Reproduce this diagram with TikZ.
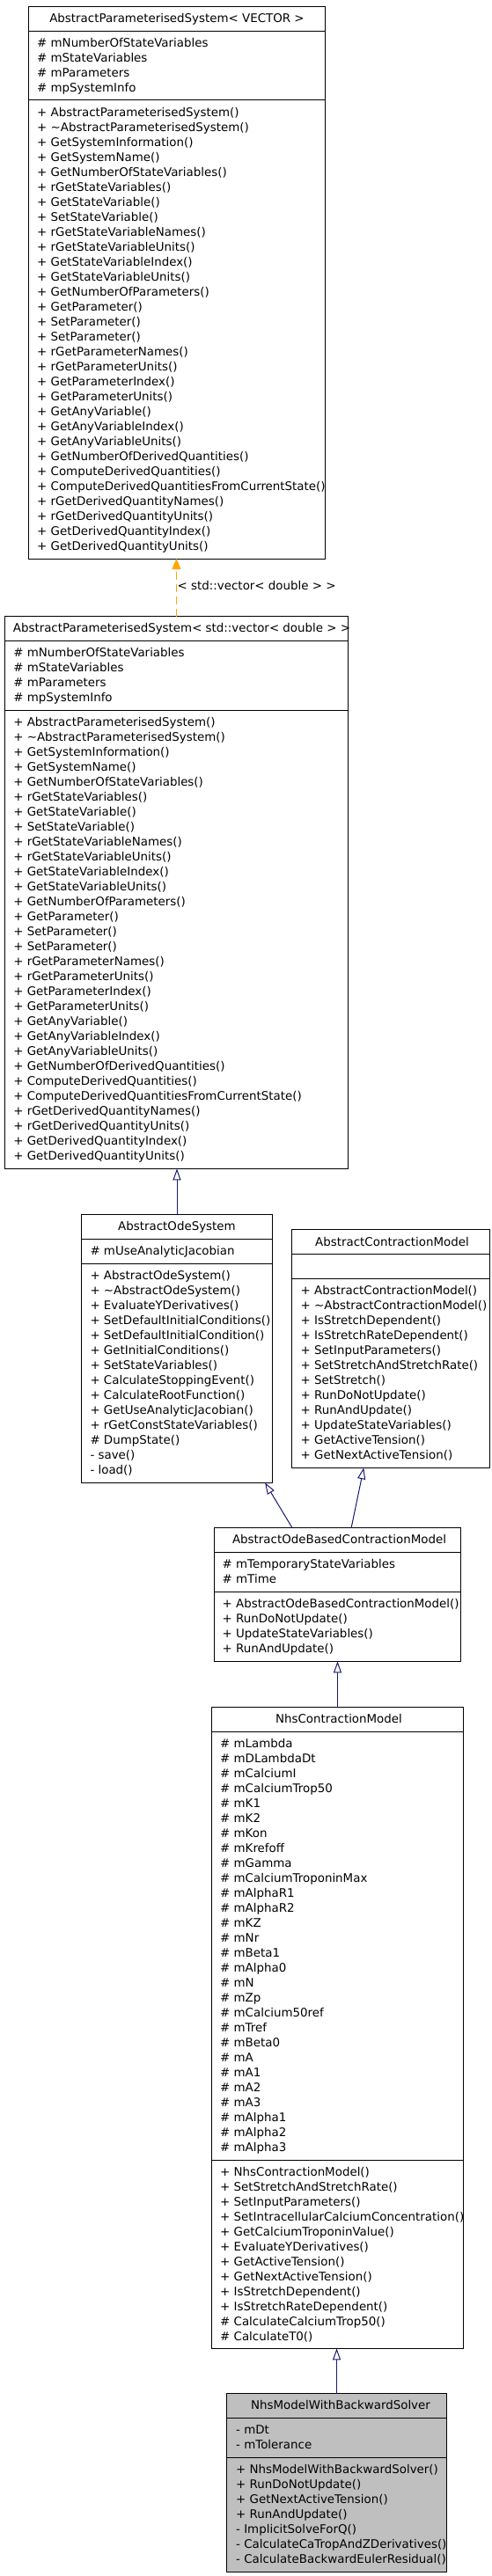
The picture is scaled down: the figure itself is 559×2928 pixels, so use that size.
\documentclass[tikz,border=0pt]{standalone}
\usepackage{fontspec}
\setmainfont{DejaVu Sans}
\usetikzlibrary{arrows.meta}
\definecolor{edgeblue}{RGB}{25,25,112}
\definecolor{deporange}{RGB}{255,165,0}
\definecolor{boxgray}{RGB}{191,191,191}
\newcommand\clsrows[4]{\foreach \lbl [count=\i from 0] in {#4} {\node[rowtxt] (#1\i) at (#2,{#3+17*\i}) {\lbl};}}
\begin{document}
\begin{tikzpicture}[x=1pt,y=-1pt,
  classbox/.style={draw=black, fill=white, line width=1pt, anchor=north west, inner sep=0pt, outer sep=0pt},
  rowtxt/.style={anchor=base west, inner sep=0pt, font=\fontsize{13.4}{17}\selectfont},
  ttl/.style={anchor=base, inner sep=0pt, font=\fontsize{13.4}{17}\selectfont},
  sep/.style={draw=black, line width=1pt},
  inh/.style={draw=edgeblue, line width=1pt, -{Triangle[open, length=13pt, width=9pt, fill=white]}},
  dep/.style={draw=deporange, line width=1pt, dash pattern=on 9pt off 5pt, -{Triangle[length=12pt, width=10pt, fill=deporange]}}]
\useasboundingbox (0,0) rectangle (559,2928);
\fill[white] (0,0) rectangle (559,2928);

% ---------- Box 1 ----------
\node[classbox, minimum width=336.7pt, minimum height=627.7pt] (b1) at (32.6,7.3) {};
\draw[sep] ([yshift=-28pt]b1.north west) -- ([yshift=-28pt]b1.north east);
\draw[sep] ([yshift=-106pt]b1.north west) -- ([yshift=-106pt]b1.north east);
\node[ttl] (b1t) at (201,25.7) {AbstractParameterisedSystem< VECTOR >};
\clsrows{b1a}{42}{53.3}{\# mNumberOfStateVariables,\# mStateVariables,\# mParameters,\# mpSystemInfo}
\clsrows{b1o}{42}{132.3}{+ AbstractParameterisedSystem(),+ \textasciitilde AbstractParameterisedSystem(),+ GetSystemInformation(),+ GetSystemName(),+ GetNumberOfStateVariables(),+ rGetStateVariables(),+ GetStateVariable(),+ SetStateVariable(),+ rGetStateVariableNames(),+ rGetStateVariableUnits(),+ GetStateVariableIndex(),+ GetStateVariableUnits(),+ GetNumberOfParameters(),+ GetParameter(),+ SetParameter(),+ SetParameter(),+ rGetParameterNames(),+ rGetParameterUnits(),+ GetParameterIndex(),+ GetParameterUnits(),+ GetAnyVariable(),+ GetAnyVariableIndex(),+ GetAnyVariableUnits(),+ GetNumberOfDerivedQuantities(),+ ComputeDerivedQuantities(),+ ComputeDerivedQuantitiesFromCurrentState(),+ rGetDerivedQuantityNames(),+ rGetDerivedQuantityUnits(),+ GetDerivedQuantityIndex(),+ GetDerivedQuantityUnits()}

% ---------- Box 2 ----------
\node[classbox, minimum width=390.1pt, minimum height=627.6pt] (b2) at (5.4,700.7) {};
\draw[sep] ([yshift=-28pt]b2.north west) -- ([yshift=-28pt]b2.north east);
\draw[sep] ([yshift=-106.6pt]b2.north west) -- ([yshift=-106.6pt]b2.north east);
\node[ttl] (b2t) at (206.5,718.3) {AbstractParameterisedSystem< std::vector< double > >};
\clsrows{b2a}{15.1}{746.3}{\# mNumberOfStateVariables,\# mStateVariables,\# mParameters,\# mpSystemInfo}
\clsrows{b2o}{15.1}{825.3}{+ AbstractParameterisedSystem(),+ \textasciitilde AbstractParameterisedSystem(),+ GetSystemInformation(),+ GetSystemName(),+ GetNumberOfStateVariables(),+ rGetStateVariables(),+ GetStateVariable(),+ SetStateVariable(),+ rGetStateVariableNames(),+ rGetStateVariableUnits(),+ GetStateVariableIndex(),+ GetStateVariableUnits(),+ GetNumberOfParameters(),+ GetParameter(),+ SetParameter(),+ SetParameter(),+ rGetParameterNames(),+ rGetParameterUnits(),+ GetParameterIndex(),+ GetParameterUnits(),+ GetAnyVariable(),+ GetAnyVariableIndex(),+ GetAnyVariableUnits(),+ GetNumberOfDerivedQuantities(),+ ComputeDerivedQuantities(),+ ComputeDerivedQuantitiesFromCurrentState(),+ rGetDerivedQuantityNames(),+ rGetDerivedQuantityUnits(),+ GetDerivedQuantityIndex(),+ GetDerivedQuantityUnits()}

% ---------- Box 3 ----------
\node[classbox, minimum width=216.2pt, minimum height=304.6pt] (b3) at (92.9,1380.7) {};
\draw[sep] ([yshift=-27.6pt]b3.north west) -- ([yshift=-27.6pt]b3.north east);
\draw[sep] ([yshift=-55.6pt]b3.north west) -- ([yshift=-55.6pt]b3.north east);
\node[ttl] (b3t) at (201,1398.3) {AbstractOdeSystem};
\clsrows{b3a}{102.3}{1426.7}{\# mUseAnalyticJacobian}
\clsrows{b3o}{102.3}{1454.3}{+ AbstractOdeSystem(),+ \textasciitilde AbstractOdeSystem(),+ EvaluateYDerivatives(),+ SetDefaultInitialConditions(),+ SetDefaultInitialCondition(),+ GetInitialConditions(),+ SetStateVariables(),+ CalculateStoppingEvent(),+ CalculateRootFunction(),+ GetUseAnalyticJacobian(),+ rGetConstStateVariables(),\# DumpState(),- save(),- load()}

% ---------- Box 4 ----------
\node[classbox, minimum width=225.2pt, minimum height=270.6pt] (b4) at (331.3,1397.7) {};
\draw[sep] ([yshift=-28pt]b4.north west) -- ([yshift=-28pt]b4.north east);
\draw[sep] ([yshift=-55.6pt]b4.north west) -- ([yshift=-55.6pt]b4.north east);
\node[ttl] (b4t) at (445.5,1416.7) {AbstractContractionModel};
\clsrows{b4o}{341.5}{1471.3}{+ AbstractContractionModel(),+ \textasciitilde AbstractContractionModel(),+ IsStretchDependent(),+ IsStretchRateDependent(),+ SetInputParameters(),+ SetStretchAndStretchRate(),+ SetStretch(),+ RunDoNotUpdate(),+ RunAndUpdate(),+ UpdateStateVariables(),+ GetActiveTension(),+ GetNextActiveTension()}

% ---------- Box 5 ----------
\node[classbox, minimum width=280.4pt, minimum height=151.6pt] (b5) at (243.1,1736.7) {};
\draw[sep] ([yshift=-27.6pt]b5.north west) -- ([yshift=-27.6pt]b5.north east);
\draw[sep] ([yshift=-72.6pt]b5.north west) -- ([yshift=-72.6pt]b5.north east);
\node[ttl] (b5t) at (385.5,1754.3) {AbstractOdeBasedContractionModel};
\clsrows{b5a}{252.5}{1782.3}{\# mTemporaryStateVariables,\# mTime}
\clsrows{b5o}{252.5}{1827.7}{+ AbstractOdeBasedContractionModel(),+ RunDoNotUpdate(),+ UpdateStateVariables(),+ RunAndUpdate()}

% ---------- Box 6 ----------
\node[classbox, minimum width=285.8pt, minimum height=728.6pt] (b6) at (240.6,1940.7) {};
\draw[sep] ([yshift=-28pt]b6.north west) -- ([yshift=-28pt]b6.north east);
\draw[sep] ([yshift=-515pt]b6.north west) -- ([yshift=-515pt]b6.north east);
\node[ttl] (b6t) at (385,1958.3) {NhsContractionModel};
\clsrows{b6a}{250}{1986.3}{\# mLambda,\# mDLambdaDt,\# mCalciumI,\# mCalciumTrop50,\# mK1,\# mK2,\# mKon,\# mKrefoff,\# mGamma,\# mCalciumTroponinMax,\# mAlphaR1,\# mAlphaR2,\# mKZ,\# mNr,\# mBeta1,\# mAlpha0,\# mN,\# mZp,\# mCalcium50ref,\# mTref,\# mBeta0,\# mA,\# mA1,\# mA2,\# mA3,\# mAlpha1,\# mAlpha2,\# mAlpha3}
\clsrows{b6o}{250}{2473.3}{+ NhsContractionModel(),+ SetStretchAndStretchRate(),+ SetInputParameters(),+ SetIntracellularCalciumConcentration(),+ GetCalciumTroponinValue(),+ EvaluateYDerivatives(),+ GetActiveTension(),+ GetNextActiveTension(),+ IsStretchDependent(),+ IsStretchRateDependent(),\# CalculateCalciumTrop50(),\# CalculateT0()}

% ---------- Box 7 ----------
\node[classbox, fill=boxgray, minimum width=249.5pt, minimum height=202.6pt] (b7) at (257.8,2720.7) {};
\draw[sep] ([yshift=-28pt]b7.north west) -- ([yshift=-28pt]b7.north east);
\draw[sep] ([yshift=-72.6pt]b7.north west) -- ([yshift=-72.6pt]b7.north east);
\node[ttl] (b7t) at (387,2738.3) {NhsModelWithBackwardSolver};
\clsrows{b7a}{268}{2766.3}{- mDt,- mTolerance}
\clsrows{b7o}{268}{2811}{+ NhsModelWithBackwardSolver(),+ RunDoNotUpdate(),+ GetNextActiveTension(),+ RunAndUpdate(),- ImplicitSolveForQ(),- CalculateCaTropAndZDerivatives(),- CalculateBackwardEulerResidual()}

% ---------- connectors ----------
\draw[dep] (b2.north) -- (b2.north |- b1.south);
\node[rowtxt] (lab) at (201.5,670) {< std::vector< double > >};
\draw[inh] (b3.north) -- (b3.north |- b2.south);
\draw[inh] ([xshift=89pt]b5.north west) -- ([xshift=-8pt]b3.south east);
\draw[inh] ([xshift=156pt]b5.north west) -- ([xshift=82pt]b4.south west);
\draw[inh] (b6.north) -- (b6.north |- b5.south);
\draw[inh] (b7.north) -- (b7.north |- b6.south);
\end{tikzpicture}
\end{document}
